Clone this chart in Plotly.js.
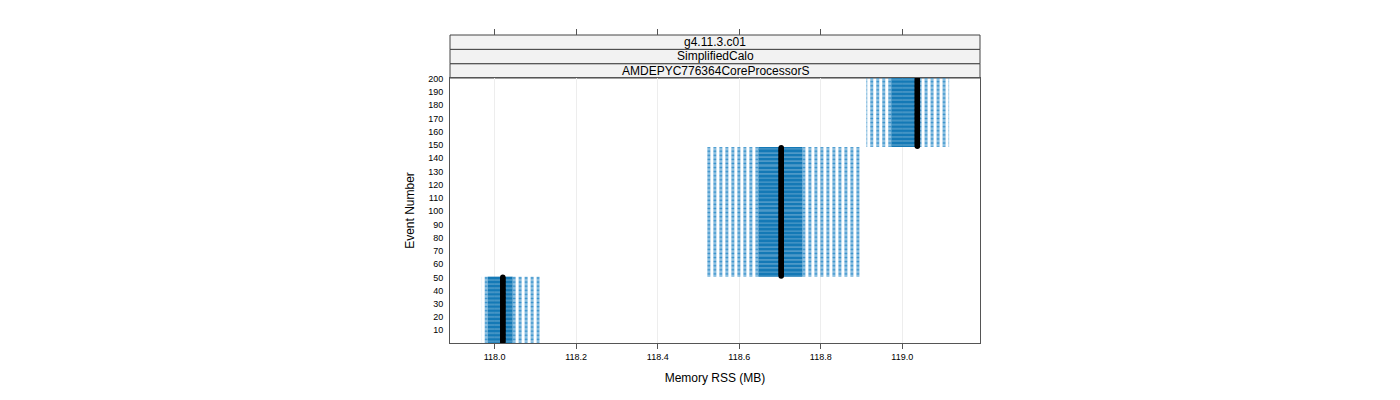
<!DOCTYPE html>
<html>
<head>
<meta charset="utf-8">
<script src="https://cdn.plot.ly/plotly-3.0.1.min.js"></script>
<style>html,body{margin:0;padding:0;background:#fff;}#chart{width:1400px;height:400px;}</style>
</head>
<body>
<div id="chart"></div>
<script>
// ---- data (per run block of events) ----
const blockFirstEvent = [1, 51, 149];
const blockLastEvent  = [50, 148, 200];
const whiskerLow  = [117.968, 118.520, 118.912];
const boxLow      = [117.983, 118.647, 118.973];
const medianRSS   = [118.020, 118.703, 119.037];
const boxHigh     = [118.044, 118.755, 119.040];
const whiskerHigh = [118.110, 118.897, 119.115];
const xTickVals   = [118.0, 118.2, 118.4, 118.6, 118.8, 119.0];
const xTickText   = ["118.0", "118.2", "118.4", "118.6", "118.8", "119.0"];
const yTickVals   = [10,20,30,40,50,60,70,80,90,100,110,120,130,140,150,160,170,180,190,200];
const stripLabels = ["AMDEPYC776364CoreProcessorS", "SimplifiedCalo", "g4.11.3.c01"];

// ---- expand to one box per event ----
const wx = [], wy = [], bx = [], by = [], mx = [], my = [];
for (let g = 0; g < blockFirstEvent.length; g++) {
  for (let e = blockFirstEvent[g]; e <= blockLastEvent[g]; e++) {
    wx.push(boxLow[g], whiskerLow[g], null, boxHigh[g], whiskerHigh[g], null);
    wy.push(e, e, null, e, e, null);
    bx.push(boxLow[g], boxHigh[g], null);
    by.push(e, e, null);
    mx.push(medianRSS[g]);
    my.push(e);
  }
}

const traces = [
  {type:'scatter', mode:'lines', x:wx, y:wy, hoverinfo:'skip', showlegend:false,
   line:{color:'#3a93cc', width:1, dash:'3px,3px'}},
  {type:'scatter', mode:'lines', x:bx, y:by, hoverinfo:'skip', showlegend:false,
   line:{color:'#1479b6', width:1.4}},
  {type:'scatter', mode:'markers', x:mx, y:my, hoverinfo:'skip', showlegend:false,
   marker:{color:'#000', size:5.5, line:{width:0}}},
  {type:'scatter', mode:'markers', x:[xTickVals[0]], y:[yTickVals[0]], xaxis:'x2', yaxis:'y',
   hoverinfo:'skip', showlegend:false, marker:{opacity:0}}
];

const figH = 400, marginTop = 35, marginBottom = 57;
const plotH = figH - marginTop - marginBottom;
const dom = 265 / plotH;
const stripH = (1 - dom) / 3;

const shapes = [], annotations = [];
for (let i = 0; i < stripLabels.length; i++) {
  shapes.push({type:'rect', xref:'paper', yref:'paper', x0:0, x1:1,
    y0:dom + i*stripH, y1:dom + (i+1)*stripH,
    fillcolor:'#f2f2f2', line:{color:'#444', width:1}, layer:'below'});
  annotations.push({xref:'paper', yref:'paper', x:0.5, y:dom + (i+0.5)*stripH,
    text:stripLabels[i], showarrow:false, xanchor:'center', yanchor:'middle',
    font:{family:'Liberation Sans, Arial, sans-serif', size:12, color:'#000'}});
}

const xr = [117.8904, 119.1907];
const layout = {
  width:1400, height:figH,
  margin:{l:449.5, r:420, t:marginTop, b:marginBottom, pad:0},
  paper_bgcolor:'#fff', plot_bgcolor:'#fff',
  font:{family:'Liberation Sans, Arial, sans-serif', color:'#000'},
  showlegend:false,
  xaxis:{range:xr, tickvals:xTickVals, ticktext:xTickText, ticks:'outside', ticklen:5,
    tickcolor:'#555', tickfont:{size:9}, showgrid:true, gridcolor:'#ededed', gridwidth:1,
    zeroline:false, showline:true, linecolor:'#555', linewidth:1, mirror:true,
    title:{text:'Memory RSS (MB)', font:{size:12}, standoff:12}},
  xaxis2:{range:xr, overlaying:'x', side:'top', anchor:'free', position:1,
    tickvals:xTickVals, showticklabels:false, ticks:'outside', ticklen:6, tickcolor:'#555',
    showgrid:false, zeroline:false, showline:false},
  yaxis:{domain:[0, dom], range:[0.4, 200.6], tickvals:yTickVals, ticks:'outside', ticklen:4,
    tickcolor:'rgba(0,0,0,0)', tickfont:{size:9}, showgrid:false, zeroline:false,
    showline:true, linecolor:'#555', linewidth:1, mirror:true,
    title:{text:'Event Number', font:{size:12}, standoff:10}},
  shapes:shapes, annotations:annotations
};

Plotly.newPlot('chart', traces, layout, {staticPlot:true, displayModeBar:false});
</script>
</body>
</html>
